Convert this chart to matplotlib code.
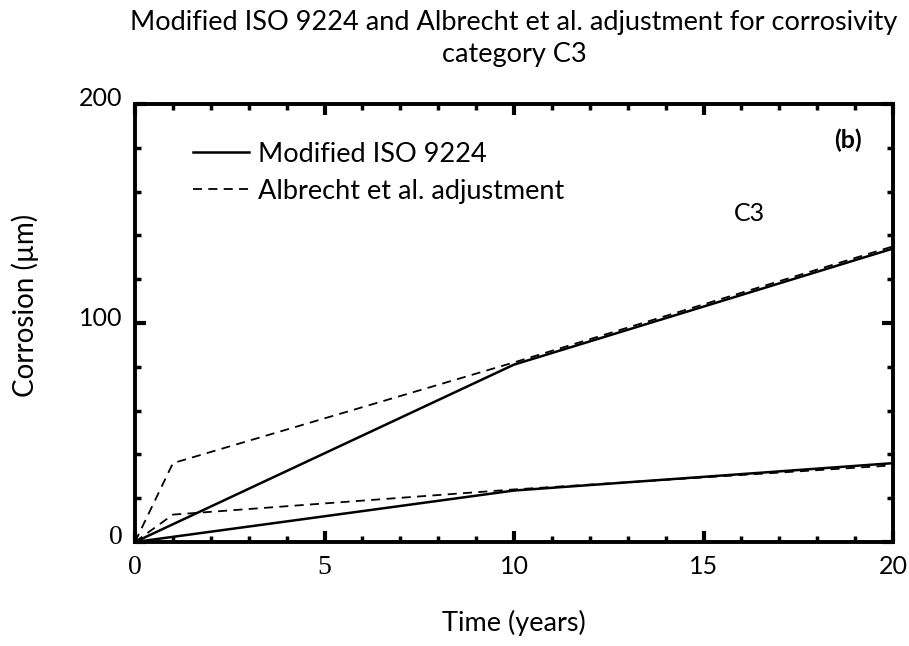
import numpy as np
from matplotlib import pyplot as plt
from matplotlib.ticker import MultipleLocator
from matplotlib.transforms import ScaledTranslation

# datos (C3)
t_iso = [0, 10, 20]
iso_sup = [0, 81, 134]  # limite superior
iso_inf = [0, 23.5, 36]  # limite inferior

t_alb = [0, 1, 10, 20]
alb_sup = [0, 36, 82, 135]
alb_inf = [0, 12.5, 24, 35]

x_ticks = [0, 5, 10, 15, 20]
x_tick_labels = ['0', '5', '10', '15', '20']
y_ticks = [0, 100, 200]
y_tick_labels = ['0', '100', '200']

fonte = 'Lato'
fonte_serif = 'Liberation Serif'

fig = plt.figure(figsize=(9.09, 6.46), dpi=100)
ax = fig.add_axes([135 / 909, 1 - 542 / 646, (893 - 135) / 909, (542 - 104) / 646])

ax.plot(t_iso, iso_sup, color='black', lw=1.8, label='Modified ISO 9224')
ax.plot(t_alb, alb_sup, color='black', lw=1.3, ls=(0, (5, 3.5)), label='Albrecht et al. adjustment')
ax.plot(t_iso, iso_inf, color='black', lw=1.8)
ax.plot(t_alb, alb_inf, color='black', lw=1.3, ls=(0, (5, 3.5)))

ax.set_xlim(0, 20)
ax.set_ylim(0, 200)
ax.xaxis.set_minor_locator(MultipleLocator(1))
ax.yaxis.set_minor_locator(MultipleLocator(20))
ax.set_xticks(x_ticks)
ax.set_xticklabels(x_tick_labels)
ax.set_yticks(y_ticks)
ax.set_yticklabels(y_tick_labels)

for s in ax.spines.values():
    s.set_linewidth(2.8)
ax.tick_params(which='major', direction='in', length=8, width=3, top=True, right=True)
ax.tick_params(which='minor', direction='in', length=4, width=2.5, top=True, right=True)
ax.tick_params(axis='x', which='major', pad=9)
ax.tick_params(axis='y', which='major', pad=9)

# os rotulos "0" e "5" aparecem em fonte serifada no original
for lbl in ax.get_xticklabels() + ax.get_yticklabels():
    if lbl.get_text() in ('0', '5'):
        lbl.set_fontfamily(fonte_serif)
        lbl.set_fontsize(20)
    else:
        lbl.set_fontfamily(fonte)
        lbl.set_fontsize(18)

# no original os rotulos do eixo y ficam um pouco acima do tick
desloc = ScaledTranslation(0, 0.07, fig.dpi_scale_trans)
for lbl in ax.get_yticklabels():
    lbl.set_transform(lbl.get_transform() + desloc)

ax.set_xlabel('Time (years)', fontfamily=fonte, fontsize=19.5, labelpad=22)
ax.set_ylabel('Corrosion (\u00b5m)', fontfamily=fonte, fontsize=20, labelpad=29)
ax.yaxis.label.set_y(0.541)
ax.set_title('Modified ISO 9224 and Albrecht et al. adjustment for corrosivity\ncategory C3',
             fontfamily=fonte, fontsize=19.5, pad=30, linespacing=1.35)

ax.text(0.941, 0.916, '(b)', transform=ax.transAxes, fontfamily=fonte, fontsize=18,
        fontweight='bold', ha='center', va='center')
ax.text(0.811, 0.749, 'C3', transform=ax.transAxes, fontfamily=fonte, fontsize=18,
        ha='center', va='center')

ax.legend(loc='upper left', bbox_to_anchor=(0.0446, 0.97), frameon=False,
          prop={'family': fonte, 'size': 19.5}, handlelength=2.07, handletextpad=0.33,
          labelspacing=0.45)

fig.savefig('out.png', dpi=100)
